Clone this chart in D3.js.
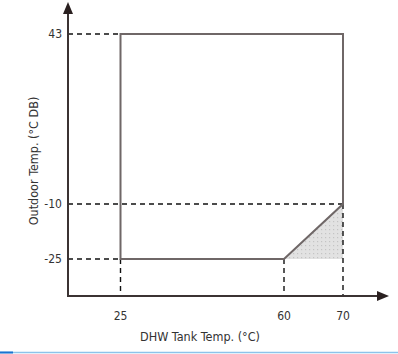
<!DOCTYPE html>
<html>
<head>
<meta charset="utf-8">
<script src="https://cdn.jsdelivr.net/npm/d3@7"></script>
<style>
  body { margin: 0; background: #fff; }
  svg text { font-family: "Liberation Sans Narrow", "DejaVu Sans Condensed", "Liberation Sans", sans-serif; fill: #333; }
</style>
</head>
<body>
<svg id="chart"></svg>
<script>
// tick values, as printed on the chart
var xTicks = [25, 60, 70];
var yTicks = [43, -10, -25];

// operating envelope (DHW tank temp, outdoor temp)
var rangeX = [25, 70];
var rangeY = [-25, 43];
var cornerLow = [60, -25];   // where the slope starts
var cornerHigh = [70, -10];  // where the slope ends

var xTitle = "DHW Tank Temp. (°C)";
var yTitle = "Outdoor Temp. (°C DB)";

var w = 398, h = 354;
var originX = 68, originY = 296;

var svg = d3.select("#chart").attr("width", w).attr("height", h);

// the drawing is not to scale, so the scales are piecewise
var x = d3.scaleLinear().domain([25, 60, 70]).range([120.5, 284, 343]);
var y = d3.scaleLinear().domain([-25, -10, 43]).range([259, 204, 34]);

var defs = svg.append("defs");
var pat = defs.append("pattern")
  .attr("id", "dots").attr("width", 4).attr("height", 4)
  .attr("patternUnits", "userSpaceOnUse");
pat.append("rect").attr("width", 4).attr("height", 4).attr("fill", "#e2e2e2");
pat.append("rect").attr("x", 1).attr("y", 1).attr("width", 1.2).attr("height", 1.2).attr("fill", "#c4c4c4");

// shaded area
var tri = [[cornerLow[0], cornerLow[1]], [cornerHigh[0], cornerHigh[1]], [cornerHigh[0], cornerLow[1]]];
svg.append("path")
  .attr("d", d3.line().x(function(d) { return x(d[0]); }).y(function(d) { return y(d[1]); })(tri) + "Z")
  .attr("fill", "url(#dots)");

// dashed guides
var dash = svg.append("g").attr("stroke", "#111").attr("stroke-width", 1.4).attr("stroke-dasharray", "5,4").attr("fill", "none");
dash.append("line").attr("x1", originX).attr("x2", x(rangeX[0])).attr("y1", y(43)).attr("y2", y(43));
dash.append("line").attr("x1", originX).attr("x2", x(cornerHigh[0])).attr("y1", y(-10)).attr("y2", y(-10));
dash.append("line").attr("x1", originX).attr("x2", x(rangeX[0])).attr("y1", y(-25)).attr("y2", y(-25));
dash.append("line").attr("x1", x(25)).attr("x2", x(25)).attr("y1", y(-25)).attr("y2", originY);
dash.append("line").attr("x1", x(60)).attr("x2", x(60)).attr("y1", y(-25)).attr("y2", originY);
dash.append("line").attr("x1", x(70)).attr("x2", x(70)).attr("y1", y(-10)).attr("y2", originY);

// envelope outline
var outline = [[rangeX[0], rangeY[0]], [rangeX[0], rangeY[1]], [rangeX[1], rangeY[1]], cornerHigh, cornerLow];
svg.append("path")
  .attr("d", d3.line().x(function(d) { return x(d[0]); }).y(function(d) { return y(d[1]); })(outline) + "Z")
  .attr("fill", "none").attr("stroke", "#6f6767").attr("stroke-width", 2);

// axes with arrows
var axisCol = "#3b3333";
svg.append("line").attr("x1", originX).attr("x2", originX).attr("y1", originY + 1).attr("y2", 12)
  .attr("stroke", axisCol).attr("stroke-width", 2);
svg.append("line").attr("x1", originX - 1).attr("x2", 380).attr("y1", originY).attr("y2", originY)
  .attr("stroke", axisCol).attr("stroke-width", 2);
svg.append("path").attr("d", "M" + originX + ",2 L" + (originX - 5) + ",14 L" + (originX + 5) + ",14Z").attr("fill", "#2a2020");
svg.append("path").attr("d", "M389," + originY + " L377," + (originY - 5) + " L377," + (originY + 5) + "Z").attr("fill", "#2a2020");

// tick labels
svg.append("g").selectAll("text").data(yTicks).enter().append("text")
  .attr("x", originX - 6).attr("y", function(d) { return y(d); })
  .attr("dy", "0.35em").attr("text-anchor", "end").attr("font-size", 12)
  .text(function(d) { return d; });

svg.append("g").selectAll("text").data(xTicks).enter().append("text")
  .attr("x", function(d) { return x(d); }).attr("y", 320)
  .attr("text-anchor", "middle").attr("font-size", 12)
  .text(function(d) { return d; });

// titles
svg.append("text").attr("x", 200).attr("y", 341).attr("text-anchor", "middle").attr("font-size", 12.5)
  .text(xTitle);
svg.append("text").attr("transform", "translate(38,161) rotate(-90)").attr("text-anchor", "middle").attr("font-size", 12.5)
  .text(yTitle);

// bottom rule
svg.append("line").attr("x1", 0).attr("x2", w).attr("y1", 352.5).attr("y2", 352.5).attr("stroke", "#8cc3ea").attr("stroke-width", 1.5);
svg.append("line").attr("x1", 0).attr("x2", 13).attr("y1", 352.5).attr("y2", 352.5).attr("stroke", "#1a73d0").attr("stroke-width", 2);
</script>
</body>
</html>
